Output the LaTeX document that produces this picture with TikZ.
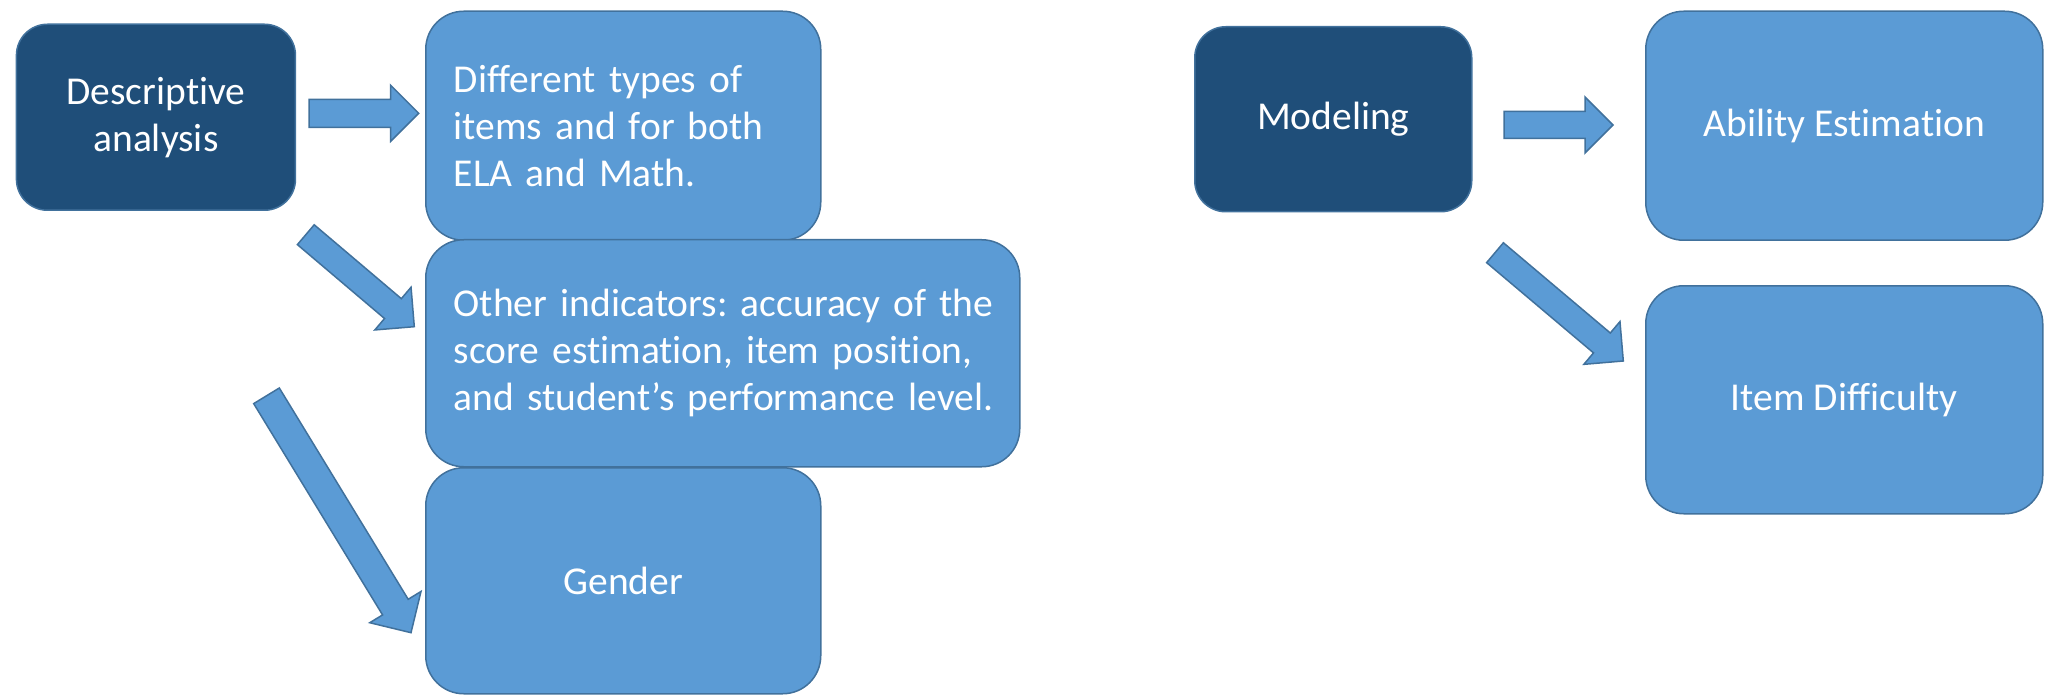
\documentclass[tikz,border=0pt]{standalone}
\usepackage{fontspec}
\setmainfont{Carlito}[Ligatures={NoCommon}]
\usetikzlibrary{calc,positioning}
\definecolor{boxblue}{HTML}{5B9BD5}
\definecolor{boxdark}{HTML}{1F4E79}
\definecolor{boxline}{HTML}{41719C}
\frenchspacing
\newcommand{\boxfont}{\fontsize{39.5}{47}\selectfont\spaceskip 8.9pt plus 1pt minus 1pt\relax}

% block arrow: tail, tip, half shaft width, half head width
\newcommand{\blockarrow}[4]{%
  \coordinate (#1h) at ($(#2)!#4!(#1)$);
  \filldraw[arrowshape]
    ($(#1)!#3!90:(#2)$) -- ($(#1h)!#3!90:(#2)$) -- ($(#1h)!#4!90:(#2)$) -- (#2)
    -- ($(#1h)!#4!-90:(#2)$) -- ($(#1h)!#3!-90:(#2)$) -- ($(#1)!#3!-90:(#2)$) -- cycle;
}

\begin{document}
\begin{tikzpicture}[x=1pt, y=-1pt,
    lightbox/.style={draw=boxline, line width=1.5pt, fill=boxblue, rounded corners=38pt,
      text=white, anchor=north west, font=\boxfont},
    darkbox/.style={lightbox, fill=boxdark, rounded corners=31pt, align=center},
    leftbox/.style={lightbox, inner xsep=28pt, align=left},
    arrowshape/.style={draw=boxline, line width=1.5pt, fill=boxblue, line join=miter}]
    \useasboundingbox (0,0) rectangle (2051,695);

    % Left group
    \node[darkbox, minimum width=279pt, minimum height=186pt] (desc) at (15.7,23.5) {Descriptive\\analysis};
    \node[leftbox, minimum width=395pt, minimum height=229pt, text width=339pt] (types) at (425,10.5)
        {\mbox{Different types of}\\\mbox{items and for both}\\\mbox{ELA and Math.}};
    \node[leftbox, minimum width=594pt, minimum height=227pt, text width=538pt] (other) at (425,239)
        {\mbox{Other indicators: accuracy of the}\\\mbox{score estimation, item position,}\\\mbox{and student’s performance level.}};
    \node[lightbox, minimum width=395pt, minimum height=226pt] (gender) at (425,467) {Gender};

    % Right group
    \node[darkbox, minimum width=277pt, minimum height=185pt] (model) at (1194,26) {Modeling};
    \node[lightbox, minimum width=397pt, minimum height=229pt] (ability) at (1645,10.5) {Ability Estimation};
    \node[lightbox, minimum width=397pt, minimum height=228pt] (diff) at (1645,285) {Item Difficulty};

    % Arrows
    \coordinate (a1) at (309,113.3);   \coordinate (a1t) at (418.7,113.3);
    \coordinate (a2) at (305.8,234.7); \coordinate (a2t) at (414.3,326.7);
    \coordinate (a3) at (266.5,395.8); \coordinate (a3t) at (411,632.7);
    \coordinate (a4) at (1504,125);    \coordinate (a4t) at (1613,125);
    \coordinate (a5) at (1495,252.7);  \coordinate (a5t) at (1623.3,361);
    \blockarrow{a1}{a1t}{14pt}{28pt}
    \blockarrow{a2}{a2t}{13pt}{28pt}
    \blockarrow{a3}{a3t}{15pt}{30pt}
    \blockarrow{a4}{a4t}{13.5pt}{28pt}
    \blockarrow{a5}{a5t}{13pt}{28pt}
\end{tikzpicture}
\end{document}
